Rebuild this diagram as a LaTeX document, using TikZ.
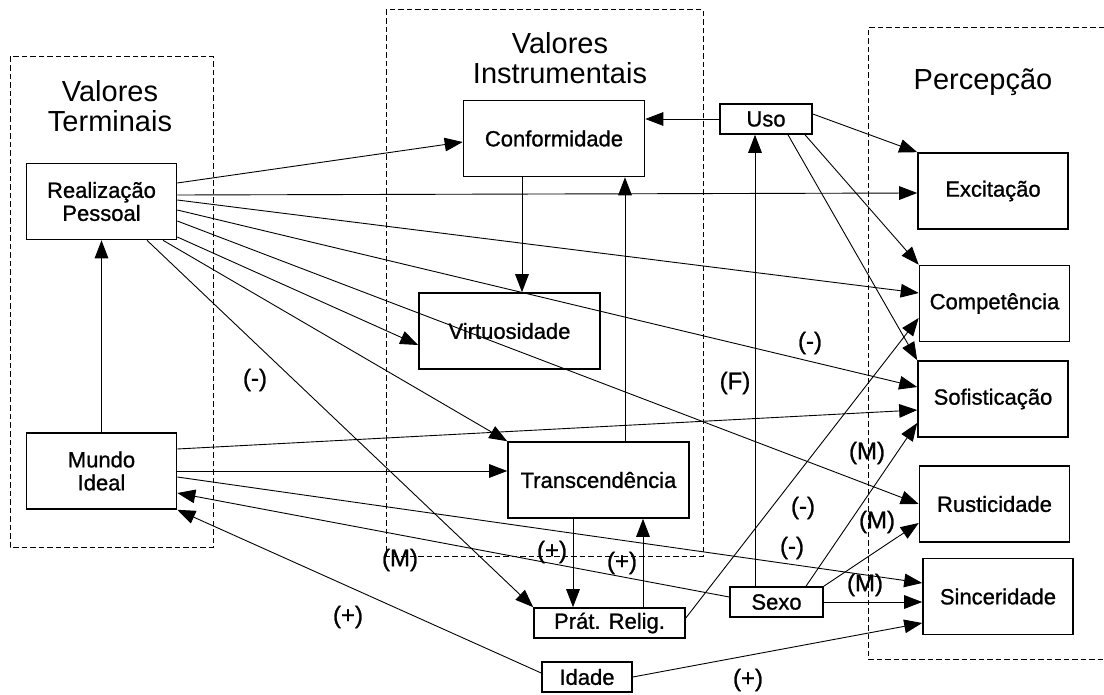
\documentclass[tikz,border=0pt]{standalone}
\usepackage{fontspec}
\setmainfont{Liberation Sans}
\newfontfamily\dickfont[FakeBold=1]{Liberation Sans}
\usetikzlibrary{calc,arrows.meta}

\tikzset{
	kasten/.style={draw, line width=0.8pt, minimum width=75pt, minimum height=38pt, inner sep=0pt, align=center, font=\dickfont\fontsize{11}{11.5}\selectfont},
	breit/.style={kasten, minimum width=90.5pt},
	klein/.style={kasten, minimum height=15pt},
	gruppe/.style={line width=0.5pt, dash pattern=on 2.75pt off 1.5pt},
	titel/.style={align=center, font=\fontsize{14.5}{15}\selectfont},
	pfeil/.style={-{Triangle[length=9pt,width=6.8pt]}, line width=0.45pt},
	zeichen/.style={font=\dickfont\fontsize{12}{12}\selectfont},
}

\begin{document}
\begin{tikzpicture}[x=0.5pt, y=-0.5pt]
	\useasboundingbox (0,0) rectangle (1104,695);
	% Gruppen
	\draw[gruppe] (10,57) rectangle (213,547);
	\draw[gruppe] (386,10) rectangle (703,556);
	\draw[gruppe] (1104,28) -- (868,28) -- (868,659) -- (1104,659);
	\node[titel] (tterm) at (110,106) {Valores\\Terminais};
	\node[titel] (tinst) at (560,58) {Valores\\Instrumentais};
	\node[titel] (tperc) at (983,82) {Percepção};
	% Kaesten
	\node[kasten] (rp) at (101.5,201.5) {Realização\\Pessoal};
	\node[kasten] (mi) at (101.5,471) {Mundo\\Ideal};
	\node[breit] (conf) at (554,138.5) {Conformidade};
	\node[breit] (virt) at (509.5,331) {Virtuosidade};
	\node[breit] (transc) at (598.5,480) {Transcendência};
	\node[klein, minimum width=75.5pt] (prat) at (609.5,623) {Prát. Relig.};
	\node[klein, minimum width=45pt] (idade) at (587,677) {Idade};
	\node[klein, minimum width=46.5pt] (sexo) at (776.5,602) {Sexo};
	\node[klein, minimum width=46pt] (uso) at (766,119) {Uso};
	\node[kasten] (exc) at (993,191) {Excitação};
	\node[kasten] (comp) at (994.5,303.5) {Competência};
	\node[kasten] (sof) at (993,399) {Sofisticação};
	\node[kasten] (rust) at (994.5,504) {Rusticidade};
	\node[kasten] (sinc) at (998,596.5) {Sinceridade};
	% Pfeile Realizacao Pessoal
	\draw[pfeil] ($(rp.east)+(0,-18.5)$) -- ($(conf.west)+(0,3.5)$);
	\draw[pfeil] ($(rp.east)+(0,-6.5)$) -- ($(exc.west)+(0,2)$);
	\draw[pfeil] ($(rp.east)+(0,-1.5)$) -- ($(comp.west)+(0,-10.5)$);
	\draw[pfeil] ($(rp.east)+(0,8.5)$) -- ($(sof.west)+(0,-12)$);
	\draw[pfeil] ($(rp.east)+(0,19.5)$) -- (rust.west);
	\draw[pfeil] ($(rp.east)+(0,35.5)$) -- ($(virt.west)+(0,14)$);
	\draw[pfeil] ($(rp.south)+(61.5,0)$) -- (transc.north west);
	\draw[pfeil] ($(rp.south)+(45.5,0)$) -- (prat.north west);
	% Pfeile Mundo Ideal
	\draw[pfeil] (mi.north) -- (rp.south);
	\draw[pfeil] ($(mi.east)+(0,-22)$) -- ($(sof.west)+(0,11)$);
	\draw[pfeil] (mi.east) -- ($(transc.west)+(0,-9)$);
	\draw[pfeil] ($(mi.east)+(0,6)$) -- ($(sinc.west)+(0,-13.5)$);
	% Pfeile Uso
	\draw[pfeil] (uso.west) -- ($(conf.east)+(0,-19.5)$);
	\draw[pfeil] ($(uso.east)+(0,-5)$) -- (exc.north west);
	\draw[pfeil] ($(uso.south)+(39,0)$) -- (comp.north west);
	\draw[pfeil] ($(uso.south)+(22,0)$) -- (sof.north west);
	% Pfeile Sexo
	\draw[pfeil] ($(sexo.north)+(-21.5,0)$) -- ($(uso.south)+(-11,0)$);
	\draw[pfeil] ($(sexo.north)+(29.5,0)$) -- ($(sof.west)+(0,24)$);
	\draw[pfeil] (sexo.north east) -- ($(rust.west)+(0,19)$);
	\draw[pfeil] (sexo.east) -- ($(sinc.west)+(0,5.5)$);
	\draw[pfeil] ($(sexo.west)+(0,-5)$) -- ($(mi.east)+(0,22)$);
	% Pfeile Idade
	\draw[pfeil] ($(idade.west)+(0,-4)$) -- (mi.south east);
	\draw[pfeil] (idade.east) -- ($(sinc.west)+(0,26.5)$);
	% Mitte
	\draw[pfeil] ($(conf.south)+(-32,0)$) -- ($(virt.north)+(12.5,0)$);
	\draw[pfeil] ($(transc.north)+(26.5,0)$) -- ($(conf.south)+(71,0)$);
	\draw[pfeil] ($(transc.south)+(-25.5,0)$) -- ($(prat.north)+(-36.5,0)$);
	\draw[pfeil] ($(prat.north)+(33.5,0)$) -- ($(transc.south)+(44.5,0)$);
	\draw[pfeil] ($(prat.east)+(0,-5)$) -- ($(comp.west)+(0,14.5)$);
	% Vorzeichen
	\node[zeichen] (z1) at (255,380) {(-)};
	\node[zeichen] (z2) at (810,343) {(-)};
	\node[zeichen] (z3) at (735,383) {(F)};
	\node[zeichen] (z4) at (867,453) {(M)};
	\node[zeichen] (z5) at (803,508) {(-)};
	\node[zeichen] (z6) at (877,522) {(M)};
	\node[zeichen] (z7) at (792,548) {(-)};
	\node[zeichen] (z8) at (865,585) {(M)};
	\node[zeichen] (z9) at (400,560) {(M)};
	\node[zeichen] (z10) at (552,552) {(+)};
	\node[zeichen] (z11) at (622,563) {(+)};
	\node[zeichen] (z12) at (348,617) {(+)};
	\node[zeichen] (z13) at (748,680) {(+)};
\end{tikzpicture}
\end{document}
